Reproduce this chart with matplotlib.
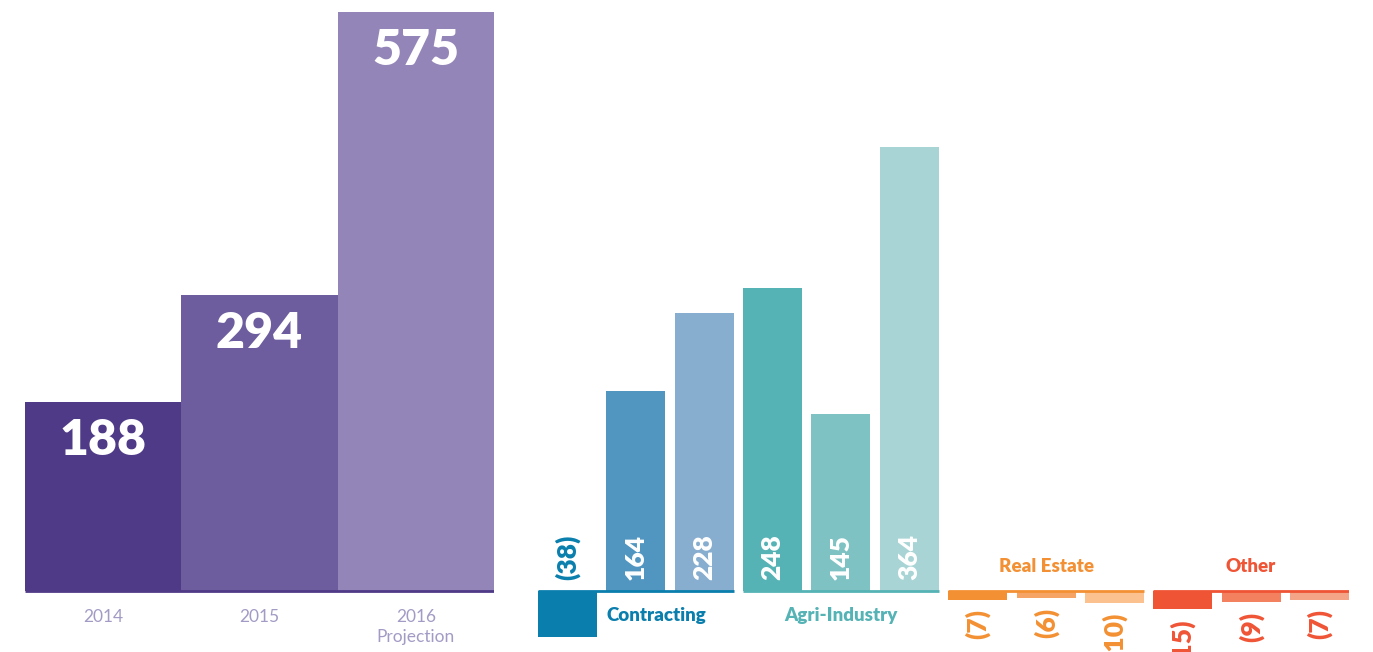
import numpy as np
import matplotlib.pyplot as plt

# data
years = ["2014", "2015", "2016\nProjection"]
totals = [188, 294, 575]

sectors = ["Contracting", "Agri-Industry", "Real Estate", "Other"]
contracting = [-38, 164, 228]
agri = [248, 145, 364]
real_estate = [-7, -6, -10]
other = [-15, -9, -7]

# styles
year_colors = ["#4f3a87", "#6d5d9e", "#9485b8"]
sector_main = ["#0a7fad", "#55b3b5", "#f39033", "#ef5435"]
sector_bars = [
    ["#0a7fad", "#5096c0", "#88aecf"],
    ["#55b3b5", "#7fc2c3", "#a8d4d5"],
    ["#f39033", "#f6a466", "#fbc18f"],
    ["#ef5435", "#f3805f", "#f5a587"],
]
FONT = ["Lato", "DejaVu Sans"]

W, H = 1373, 652
fig = plt.figure(figsize=(W / 100, H / 100), dpi=100)
plt.rcParams["font.family"] = FONT

base_px = 61  # baseline height from bottom, pixels

# ---- left chart: totals per year
ax1 = fig.add_axes([25 / W, 0, (494 - 25) / W, 1])
k1 = 1.007  # px per unit
ax1.set_ylim(-base_px / k1, (H - base_px) / k1)
ax1.set_xlim(-0.5, 2.5)
x1 = np.arange(len(totals))
ax1.bar(x1, totals, width=1.0, color=year_colors, linewidth=0)
ax1.hlines(0, -0.5, 2.5, color=year_colors[0], lw=2)
for x, v, lab in zip(x1, totals, years):
    ax1.annotate(str(v), (x, v), xytext=(0, -28), textcoords="offset points",
                 ha="center", va="center", color="white", fontsize=36,
                 fontweight="heavy")
    ax1.annotate(lab, (x, 0), xytext=(0, -13), textcoords="offset points",
                 ha="center", va="top", color="#a39bc5", fontsize=12.5,
                 fontweight="normal", linespacing=1.3)
ax1.axis("off")

# ---- right chart: by sector
ax2 = fig.add_axes([538 / W, 0, (1349 - 538) / W, 1])
k2 = 1.22
ax2.set_ylim(-base_px / k2, (H - base_px) / k2)
w = 0.864
ax2.set_xlim(-w / 2, 11 + w / 2)

groups = [contracting, agri, real_estate, other]
for g, (name, vals) in enumerate(zip(sectors, groups)):
    xs = np.arange(3) + 3 * g
    ax2.bar(xs, vals, width=w, color=sector_bars[g], linewidth=0)
    ax2.hlines(0, xs[0] - w / 2, xs[-1] + w / 2, color=sector_main[g], lw=2)
    for x, v in zip(xs, vals):
        lab = str(v) if v >= 0 else "(%d)" % abs(v)
        if v >= 0:
            ax2.annotate(lab, (x, 0), xytext=(0, 8), textcoords="offset points",
                         ha="center", va="bottom", rotation=90, color="white",
                         fontsize=19, fontweight="heavy")
        elif g == 0:
            ax2.annotate(lab, (x, 0), xytext=(0, 8), textcoords="offset points",
                         ha="center", va="bottom", rotation=90,
                         color=sector_main[g], fontsize=19, fontweight="heavy")
        else:
            ax2.annotate(lab, (x, v), xytext=(0, -7), textcoords="offset points",
                         ha="center", va="top", rotation=90,
                         color=sector_main[g], fontsize=19, fontweight="heavy")
    if g == 0:
        ax2.annotate(name, (xs[1] - w / 2, 0), xytext=(0, -18),
                     textcoords="offset points", ha="left", va="center",
                     color=sector_main[g], fontsize=13.5, fontweight="heavy")
    elif g == 1:
        ax2.annotate(name, (xs[1], 0), xytext=(0, -18),
                     textcoords="offset points", ha="center", va="center",
                     color=sector_main[g], fontsize=13.5, fontweight="heavy")
    else:
        ax2.annotate(name, (xs[1], 0), xytext=(0, 17.5),
                     textcoords="offset points", ha="center", va="center",
                     color=sector_main[g], fontsize=13.5, fontweight="heavy")
ax2.axis("off")

fig.savefig("out.png", dpi=100)
